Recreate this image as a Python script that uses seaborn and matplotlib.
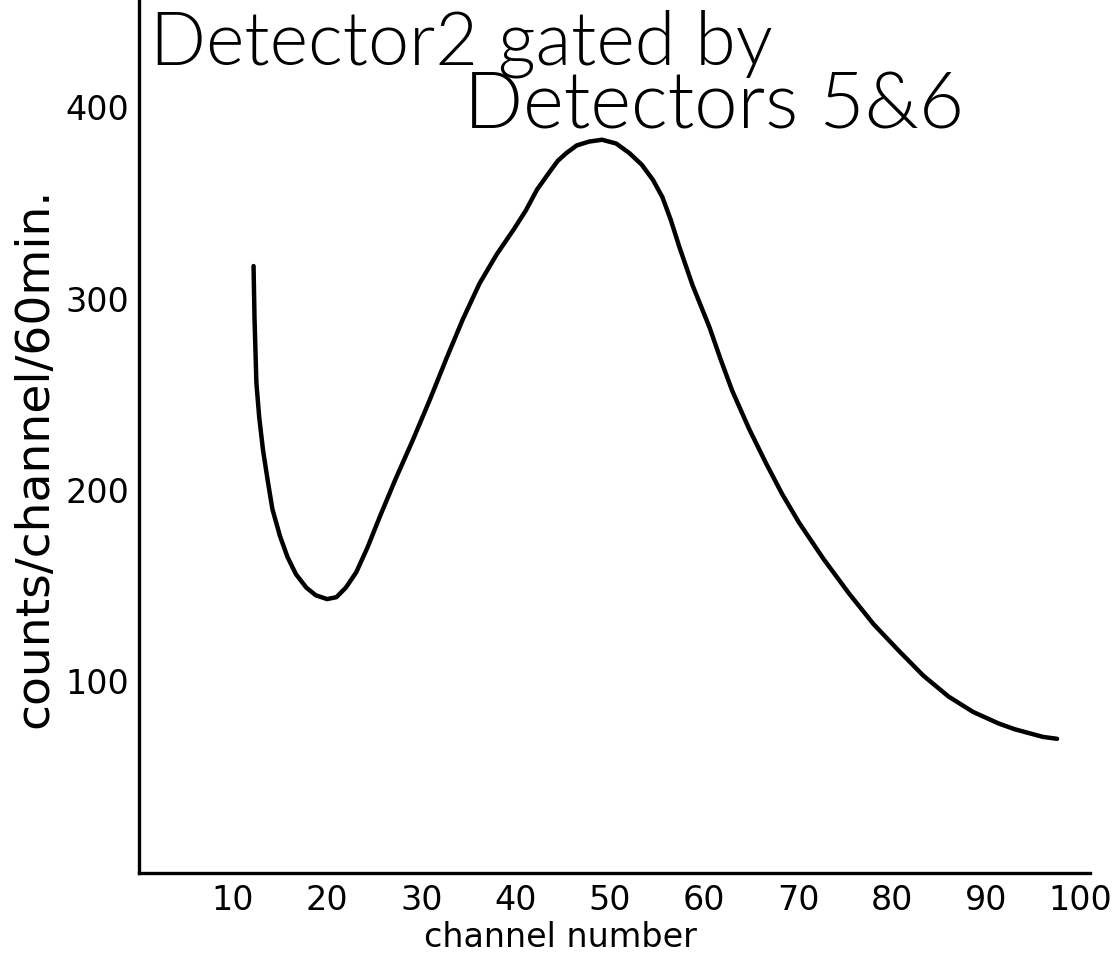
import numpy as np
import pandas as pd
import seaborn as sns
import matplotlib.pyplot as plt

# values
channels = [12.2, 12.3, 12.5, 12.8, 13.2, 13.7, 14.2, 15.0, 15.8, 16.7, 17.8,
            18.8, 20.0, 21.0, 22.0, 23.1, 24.3, 25.6, 27.3, 29.1, 30.9,
            32.7, 34.4, 36.2, 38.0, 39.8, 41.1, 42.3, 43.6, 44.5, 45.4,
            46.5, 47.8, 49.2, 50.7, 52.1, 53.4, 54.6, 55.6, 56.5, 57.4,
            58.8, 60.6, 61.8, 63.0, 64.8, 66.6, 68.3, 70.1, 72.7, 75.4,
            78.0, 80.7, 83.3, 86.0, 88.6, 91.3, 93.0, 94.5, 96.0, 97.5]
counts = [317, 290, 256, 238, 221, 205, 190, 176, 165, 156, 149,
          145, 143, 144, 149, 157, 170, 186, 206, 226, 247,
          269, 289, 308, 323, 336, 346, 357, 366, 372, 376,
          380, 382, 383, 381, 376, 370, 362, 353, 341, 327,
          307, 285, 268, 252, 232, 214, 198, 183, 164, 146,
          130, 116, 103, 92, 84, 78, 75, 73, 71, 70]

x_ticks = [10, 20, 30, 40, 50, 60, 70, 80, 90, 100]
y_ticks = [100, 200, 300, 400]

title_line1 = "Detector2 gated by"
title_line2 = "Detectors 5&6"
x_label = "channel number"
y_label = "counts/channel/60min."

df = pd.DataFrame({"channel": channels, "counts": counts})

sns.set_style("white")
plt.rcParams["font.family"] = ["DejaVu Sans"]
plt.rcParams["text.color"] = "black"
plt.rcParams["axes.labelcolor"] = "black"

fig = plt.figure(figsize=(11.18, 9.57), dpi=100)
ax = fig.add_axes([0.124, 0.088, 0.851, 0.912])

sns.lineplot(data=df, x="channel", y="counts", ax=ax, color="black",
             linewidth=3.2, sort=False, estimator=None)

ax.set_xlim(0, 101)
ax.set_ylim(0, 456)
ax.set_xticks(x_ticks)
ax.set_yticks(y_ticks)
ax.tick_params(axis="both", labelsize=24, length=3, width=1.5,
               color="black", labelcolor="black")
ax.tick_params(axis="x", direction="in", pad=8)
ax.tick_params(axis="y", direction="out", pad=4)

for side in ["top", "right"]:
    ax.spines[side].set_visible(False)
for side in ["left", "bottom"]:
    ax.spines[side].set_color("black")
    ax.spines[side].set_linewidth(2.4)

ax.set_xlabel(x_label, fontsize=24)
ax.xaxis.set_label_coords(0.443, -0.055)
ax.set_ylabel(y_label, fontsize=34)
ax.yaxis.set_label_coords(-0.085, 0.475)

title_font = ["Lato", "DejaVu Sans"]
fig.text(0.134, 0.99, title_line1, fontsize=53, family=title_font,
         fontweight=300, ha="left", va="top")
fig.text(0.415, 0.926, title_line2, fontsize=56, family=title_font,
         fontweight=300, ha="left", va="top")

fig.savefig("out.png", dpi=100, facecolor="white")
